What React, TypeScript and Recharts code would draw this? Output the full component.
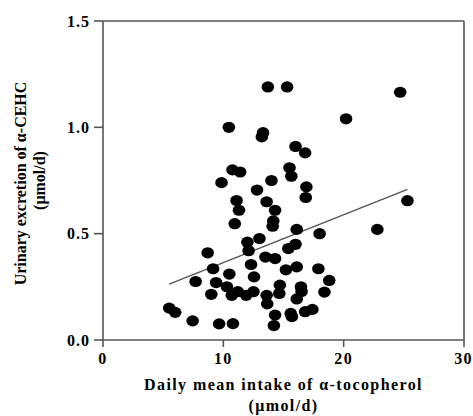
import { ScatterChart, Scatter, XAxis, YAxis, ReferenceLine } from 'recharts';

// daily intake of alpha-tocopherol (umol/d)
const intake = [
  5.5, 6.0, 7.45, 7.7, 8.7, 9.0, 9.15, 9.4, 9.65, 9.85,
  10.3, 10.5, 10.7, 10.46, 10.76, 10.8, 11.1, 11.3, 10.95, 11.2,
  11.4, 11.9, 12.0, 12.1, 12.3, 12.5, 12.55, 12.8, 13.0, 13.2,
  13.3, 13.5, 13.6, 13.6, 13.65, 13.7, 14.0, 14.15, 14.1, 14.3,
  14.3, 14.3, 14.2, 14.7, 14.65, 15.2, 15.3, 15.5, 15.65, 15.4,
  16.0, 15.6, 15.7, 16.0, 16.1, 16.1, 16.45, 16.5, 16.1, 16.8,
  16.8, 16.9, 16.85, 17.4, 17.9, 18.0, 18.4, 18.8, 20.2, 22.8,
  24.7, 25.3,
];

// urinary alpha-CEHC (umol/d)
const excretion = [
  0.15, 0.13, 0.09, 0.275, 0.41, 0.215, 0.335, 0.27, 0.076, 0.74,
  0.25, 0.31, 0.21, 1.0, 0.8, 0.077, 0.656, 0.61, 0.547, 0.227,
  0.79, 0.21, 0.46, 0.42, 0.355, 0.227, 0.297, 0.705, 0.477, 0.955,
  0.975, 0.39, 0.65, 0.21, 0.17, 1.19, 0.75, 0.56, 0.535, 0.61,
  0.383, 0.117, 0.068, 0.258, 0.219, 0.33, 1.19, 0.81, 0.77, 0.43,
  0.45, 0.125, 0.11, 0.91, 0.52, 0.344, 0.25, 0.228, 0.193, 0.88,
  0.133, 0.72, 0.67, 0.144, 0.335, 0.5, 0.225, 0.28, 1.04, 0.52,
  1.165, 0.655,
];

// fitted line as drawn in the figure
const fitSlope = 0.0225;
const fitIntercept = 0.139;

const xTicks = [0, 10, 20, 30];
const yTicks = [0, 0.5, 1.0, 1.5];

const points = intake.map((x, i) => ({ x, y: excretion[i] }));
const xMin = Math.min(...intake);
const xMax = Math.max(...intake);

const axisColor = '#555';
const font = '"Liberation Serif", "Times New Roman", serif';

const Dot = (props: any) => (
  <ellipse cx={props.cx} cy={props.cy} rx={6.3} ry={5.6} fill="#000" />
);

const XLabel = (props: any) => {
  const vb = props.viewBox;
  const cx = vb.x + vb.width / 2;
  return (
    <text x={cx} y={vb.y} textAnchor="middle" fontFamily={font} fontWeight="bold" fontSize={16} letterSpacing={1.4} fill="#000">
      <tspan x={cx} y={vb.y + 50}>Daily mean intake of α-tocopherol</tspan>
      <tspan x={cx} y={vb.y + 71}>(μmol/d)</tspan>
    </text>
  );
};

const YLabel = (props: any) => {
  const vb = props.viewBox;
  const cy = vb.y + vb.height / 2 + 3;
  return (
    <g>
      <text x={0} y={0} transform={`translate(26 ${cy}) rotate(-90)`} textAnchor="middle" fontFamily={font} fontWeight="bold" fontSize={16} fill="#000">
        Urinary excretion of α-CEHC
      </text>
      <text x={0} y={0} transform={`translate(45 ${cy - 3}) rotate(-90)`} textAnchor="middle" fontFamily={font} fontWeight="bold" fontSize={16} fill="#000">
        (μmol/d)
      </text>
    </g>
  );
};

export default function App() {
  const tickStyle = { fontFamily: font, fontWeight: 'bold' as const, fontSize: 16, fill: '#000' };
  return (
    <div style={{ position: 'absolute', left: 0, top: 0 }}>
      <ScatterChart width={473} height={416} margin={{ top: 21, right: 9, bottom: 0, left: 0 }}>
        <XAxis
          type="number"
          dataKey="x"
          domain={[0, 30]}
          ticks={xTicks}
          height={76}
          tickSize={7}
          tickMargin={6}
          axisLine={{ stroke: axisColor, strokeWidth: 1.6 }}
          tickLine={{ stroke: axisColor, strokeWidth: 1.6 }}
          tick={{ ...tickStyle, letterSpacing: 1.4 }}
          label={{ content: XLabel }}
        />
        <YAxis
          type="number"
          dataKey="y"
          domain={[0, 1.5]}
          ticks={yTicks}
          width={103}
          tickSize={9}
          tickMargin={4}
          tickFormatter={(v: number) => v.toFixed(1)}
          axisLine={{ stroke: axisColor, strokeWidth: 1.6 }}
          tickLine={{ stroke: axisColor, strokeWidth: 1.6 }}
          tick={{ ...tickStyle, letterSpacing: 1 }}
          label={{ content: YLabel }}
        />
        <ReferenceLine y={1.5} stroke={axisColor} strokeWidth={1.6} />
        <ReferenceLine x={30} stroke={axisColor} strokeWidth={1.6} />
        <ReferenceLine
          segment={[
            { x: xMin, y: fitIntercept + fitSlope * xMin },
            { x: xMax, y: fitIntercept + fitSlope * xMax },
          ]}
          stroke={axisColor}
          strokeWidth={1.5}
        />
        <Scatter data={points} shape={Dot} isAnimationActive={false} />
      </ScatterChart>
    </div>
  );
}
